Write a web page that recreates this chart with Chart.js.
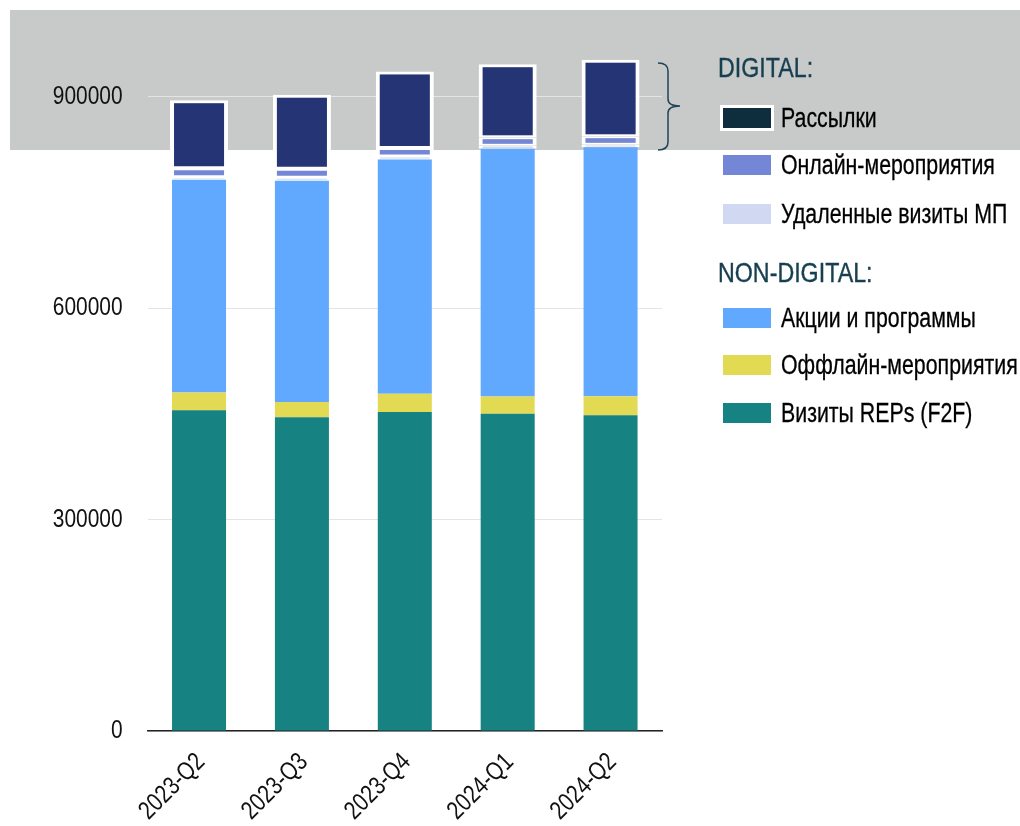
<!DOCTYPE html>
<html>
<head>
<meta charset="utf-8">
<script src="https://cdn.jsdelivr.net/npm/chart.js@4.4.1/dist/chart.umd.min.js"></script>
<style>
  body { margin: 0; background: #fff; }
  #wrap { position: relative; width: 1020px; height: 826px; }
  #legend { position: absolute; left: 0; top: 0; width: 1020px; height: 826px;
    font-family: "Liberation Sans", Arial, sans-serif; }
  .hdr { position: absolute; left: 718px; color: #173f50; font-size: 28px; white-space: nowrap;
    -webkit-text-stroke: 0.4px #173f50;
    transform-origin: left center; transform: translateY(-50%) scaleX(0.83); }
  .item { position: absolute; left: 723px; display: flex; align-items: center; transform: translateY(-50%); }
  .sw { width: 48px; height: 20px; }
  .sw.framed { margin: -3px; border: 3px solid #fff; }
  .lbl { position: absolute; left: 58px; white-space: nowrap; font-size: 27px; color: #000;
    -webkit-text-stroke: 0.3px #000;
    transform-origin: left center; transform: scaleX(0.79); }
</style>
</head>
<body>
<div id="wrap">
  <canvas id="chart" width="1020" height="826"></canvas>
  <div id="legend"></div>
</div>
<script>
const categories = ['2023-Q2', '2023-Q3', '2023-Q4', '2024-Q1', '2024-Q2']
const vizityReps = [455000, 445000, 452500, 450000, 448000]
const offlineEvents = [25000, 21500, 26000, 24500, 27000]
const promoPrograms = [302000, 314000, 332000, 351500, 353000]
const remoteVisits = [3300, 4300, 4300, 4300, 3400]
const onlineEvents = [12800, 12800, 12300, 11800, 12200]
const mailings = [96500, 105000, 108500, 103500, 108700]
const yTicks = [0, 300000, 600000, 900000]

const FONT = '"Liberation Sans", Arial, sans-serif'
const NARROW = 0.82 // squeeze Liberation Sans into an Arial Narrow look

// bottom to top
const datasets = [
  {label: 'Визиты REPs (F2F)', data: vizityReps, backgroundColor: '#178282'},
  {label: 'Оффлайн-мероприятия', data: offlineEvents, backgroundColor: '#e2da52'},
  {label: 'Акции и программы', data: promoPrograms, backgroundColor: '#61a8ff'},
  {label: 'Удаленные визиты МП', data: remoteVisits, backgroundColor: '#d0d8f2',
    barPercentage: 0.564, borderColor: '#fff', borderSkipped: false, borderWidth: {top: 1, bottom: 1, left: 4, right: 4}},
  {label: 'Онлайн-мероприятия', data: onlineEvents, backgroundColor: '#7387d6',
    barPercentage: 0.564, borderColor: '#fff', borderSkipped: false, borderWidth: {top: 2, bottom: 2, left: 4, right: 4}},
  {label: 'Рассылки', data: mailings, backgroundColor: '#243474', legendColor: '#0e2d3d',
    barPercentage: 0.564, borderColor: '#fff', borderSkipped: false, borderWidth: {top: 3, bottom: 2, left: 4, right: 4}}
]

const bandPlugin = {
  id: 'band',
  beforeDraw(chart) {
    const c = chart.ctx
    c.save()
    c.fillStyle = '#c8cac9'
    c.fillRect(10, 10, 1010, 140)
    c.restore()
  },
  afterDraw(chart) {
    // brace next to the digital part
    const c = chart.ctx
    c.save()
    c.strokeStyle = '#1f4456'
    c.lineWidth = 1.5
    c.beginPath()
    c.moveTo(658, 63)
    c.quadraticCurveTo(668, 63, 668, 71)
    c.lineTo(668, 99)
    c.quadraticCurveTo(668, 106, 680, 106)
    c.quadraticCurveTo(668, 106, 668, 113)
    c.lineTo(668, 142)
    c.quadraticCurveTo(668, 150, 658, 150)
    c.stroke()
    c.restore()
  }
}

// tick labels drawn at the axes' own pixel positions, in a condensed face
const axisLabelPlugin = {
  id: 'axisLabels',
  afterDraw(chart) {
    const c = chart.ctx
    const xs = chart.scales.x, ys = chart.scales.y
    c.save()
    c.fillStyle = '#111'
    c.font = '25.5px ' + FONT
    c.textBaseline = 'middle'
    c.textAlign = 'right'
    ys.ticks.forEach(t => {
      c.save()
      c.translate(ys.right - 25, ys.getPixelForValue(t.value))
      c.scale(NARROW, 1)
      c.fillText(String(t.value), 0, 0)
      c.restore()
    })
    categories.forEach((lab, i) => {
      c.save()
      c.translate(xs.getPixelForValue(i) + 2, xs.top + 27)
      c.rotate(-Math.PI / 4)
      c.scale(NARROW, 1)
      c.fillText(lab, 0, 0)
      c.restore()
    })
    c.restore()
  }
}

let graph
window.onload = () => {
  const ctx = document.getElementById('chart').getContext('2d')
  graph = new Chart(ctx, {
    type: 'bar',
    data: {labels: categories, datasets: datasets.map(d => Object.assign({barPercentage: 0.525, categoryPercentage: 1}, d))},
    options: {
      responsive: false,
      animation: false,
      layout: {padding: {top: 26, right: 358, left: 0, bottom: 0}},
      plugins: {legend: {display: false}, tooltip: {enabled: false}},
      scales: {
        x: {
          stacked: true,
          grid: {display: false, drawTicks: false},
          border: {display: true, color: '#222', width: 1.5},
          ticks: {display: false},
          afterFit: s => { s.height = 95 }
        },
        y: {
          stacked: true,
          min: 0,
          max: 1000000,
          afterBuildTicks: s => { s.ticks = yTicks.map(v => ({value: v})) },
          grid: {color: '#e4e4e4', drawTicks: false},
          border: {display: false},
          ticks: {display: false},
          afterFit: s => { s.width = 147.6 }
        }
      }
    },
    plugins: [bandPlugin, axisLabelPlugin]
  })

  // legend, grouped like the original
  const legend = document.getElementById('legend')
  const rows = [
    {header: 'DIGITAL:', y: 68},
    {label: 'Рассылки', y: 118},
    {label: 'Онлайн-мероприятия', y: 165},
    {label: 'Удаленные визиты МП', y: 214},
    {header: 'NON-DIGITAL:', y: 273},
    {label: 'Акции и программы', y: 318},
    {label: 'Оффлайн-мероприятия', y: 365},
    {label: 'Визиты REPs (F2F)', y: 413}
  ]
  rows.forEach(r => {
    if (r.header) {
      const h = document.createElement('div')
      h.className = 'hdr'
      h.style.top = r.y + 'px'
      h.textContent = r.header
      legend.appendChild(h)
      return
    }
    const ds = datasets.find(d => d.label === r.label)
    const item = document.createElement('div')
    item.className = 'item'
    item.style.top = r.y + 'px'
    const sw = document.createElement('div')
    sw.className = 'sw' + (ds.legendColor ? ' framed' : '')
    sw.style.background = ds.legendColor || ds.backgroundColor
    const lbl = document.createElement('div')
    lbl.className = 'lbl'
    lbl.textContent = ds.label
    item.appendChild(sw)
    item.appendChild(lbl)
    legend.appendChild(item)
  })
}
</script>
</body>
</html>
